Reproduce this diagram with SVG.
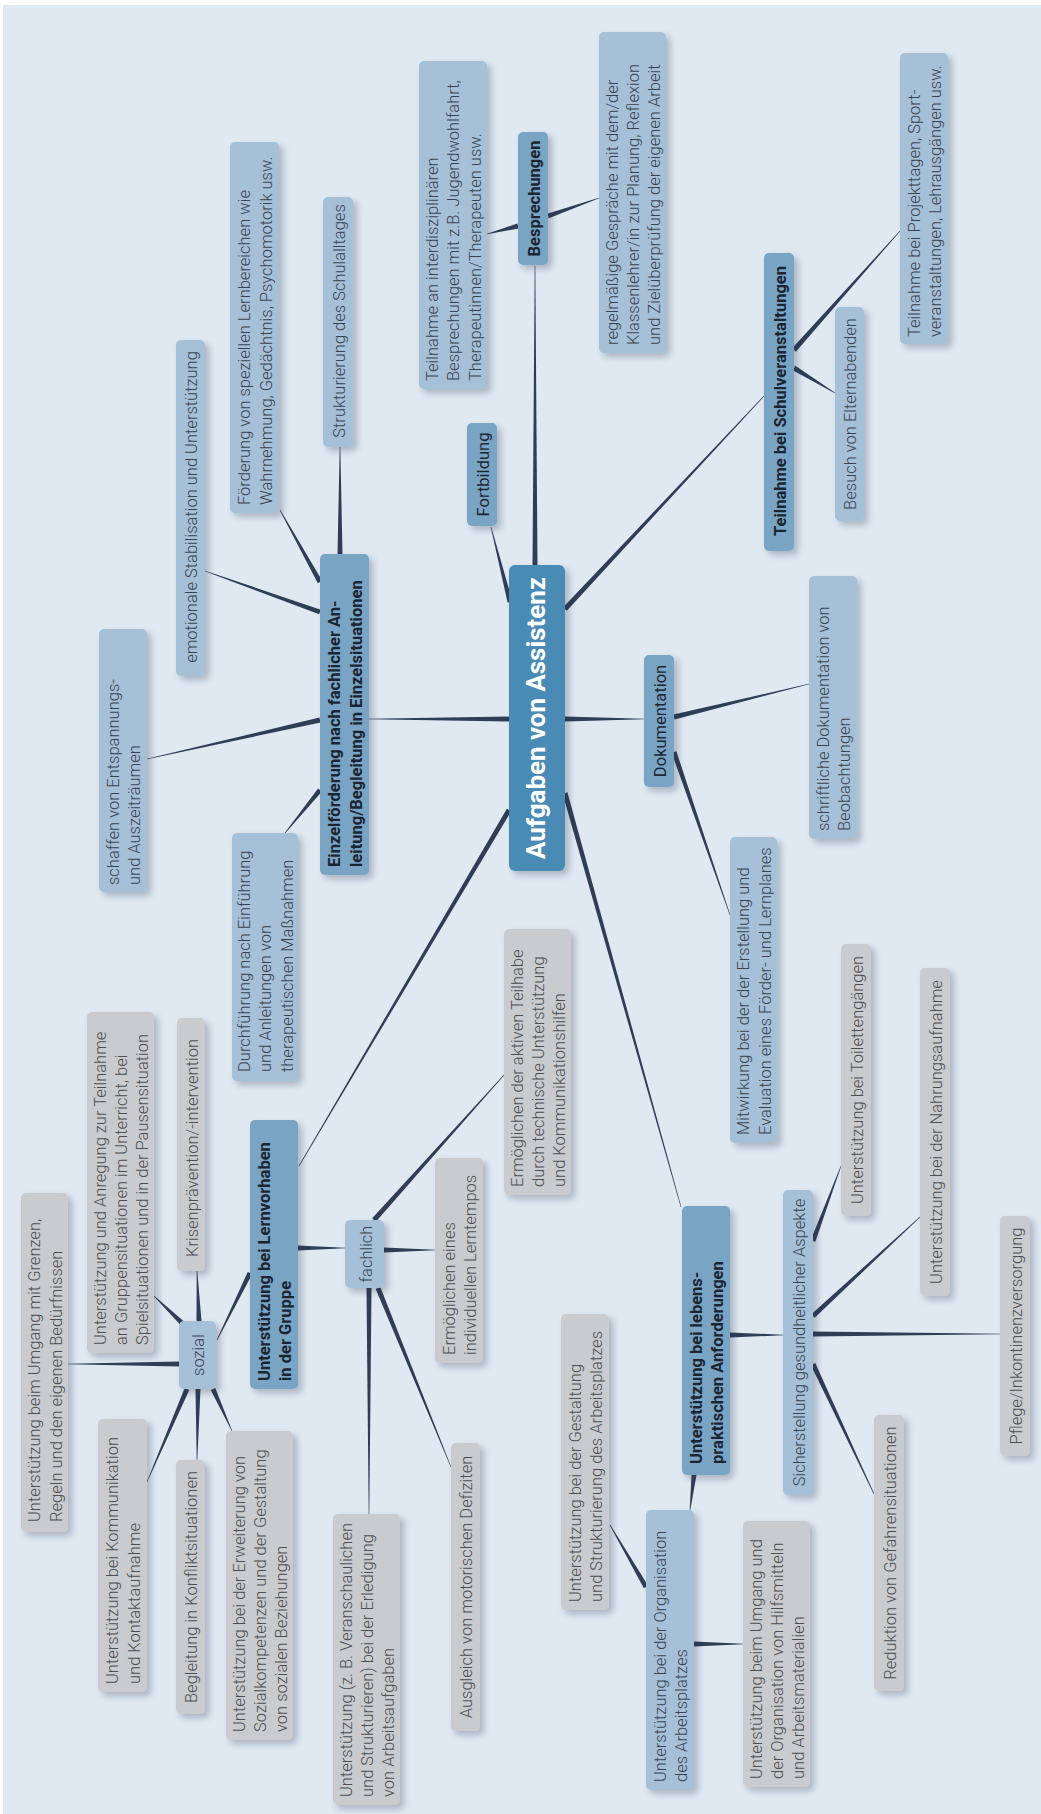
<svg xmlns="http://www.w3.org/2000/svg" width="1041" height="1814" viewBox="0 0 1041 1814">
<defs>
<filter id="sh" x="-30%" y="-10%" width="170%" height="130%">
<feDropShadow dx="4" dy="4" stdDeviation="3" flood-color="#1c2c44" flood-opacity="0.28"/>
</filter>
<style>
.bg{fill:#e0e8f2}
rect.c0{fill:#4a8bb5;filter:url(#sh)}
rect.l1{fill:#79a4c4;filter:url(#sh)}
rect.l2{fill:#a6c0d8;filter:url(#sh)}
rect.g{fill:#c9cbce;filter:url(#sh)}
text{font-family:Roboto,"Open Sans","Liberation Sans",sans-serif;font-size:16.5px}
.t{font-weight:300;fill:#39434f}
.tg{font-weight:300;fill:#4b4e53}
.tm{font-weight:400;fill:#1c2633}
.tb{font-weight:700;fill:#1a2433}
.tc{font-weight:700;fill:#ffffff;font-size:26px}
.mid{text-anchor:middle}
#connectors polygon{fill:#2f3d55}
</style>
</defs>
<rect x="0" y="0" width="1041" height="1814" fill="#ffffff"/>
<rect class="bg" x="3" y="5" width="1038" height="1809"/>
<g id="connectors">
<polygon points="532.5,566 537.5,566 535.3,266 534.7,266"/>
<polygon points="512.42,601.39 491.29,526.93 490.71,527.07 507.58,602.61"/>
<polygon points="566.83,610.71 764.22,396.2 763.78,395.8 563.17,607.29"/>
<polygon points="509,716.5 509,721.5 369,719.3 369,718.7"/>
<polygon points="565,716.5 565,721.5 644,719.3 644,718.7"/>
<polygon points="562.59,793.67 680.71,1207.08 681.29,1206.92 567.41,792.33"/>
<polygon points="506.85,808.73 298.74,1165.85 299.26,1166.15 511.15,811.27"/>
<polygon points="517.37,223.58 486.93,233.71 487.07,234.29 518.63,228.42"/>
<polygon points="548.83,218.36 599.1,198.28 598.9,197.72 547.17,213.64"/>
<polygon points="795.87,351.66 900.22,231.2 899.78,230.8 792.13,348.34"/>
<polygon points="792.7,370.13 834.84,393.26 835.16,392.74 795.3,365.87"/>
<polygon points="322.19,580.79 280.26,509.85 279.74,510.15 317.81,583.21"/>
<polygon points="337.5,554 342.5,554 340.3,447 339.7,447"/>
<polygon points="320.84,609.65 205.1,570.72 204.9,571.28 319.16,614.35"/>
<polygon points="319.45,717.56 146.93,758.71 147.07,759.29 320.55,722.44"/>
<polygon points="318.06,788.42 284.77,832.81 285.23,833.19 321.94,791.58"/>
<polygon points="674.59,719.43 809.07,684.29 808.93,683.71 673.41,714.57"/>
<polygon points="671.64,752.81 729.72,915.1 730.28,914.9 676.36,751.19"/>
<polygon points="247.76,1271.9 216.73,1339.87 217.27,1340.13 252.24,1274.1"/>
<polygon points="298,1245.5 298,1250.5 345,1248.3 345,1247.7"/>
<polygon points="196.5,1321 201.5,1321 197.3,1271 196.7,1271"/>
<polygon points="183.74,1321.2 154.21,1295.78 153.79,1296.22 180.26,1324.8"/>
<polygon points="179,1361.5 179,1366.5 68,1364.3 68,1363.7"/>
<polygon points="184.7,1388.01 146.72,1481.88 147.28,1482.12 189.3,1389.99"/>
<polygon points="195.5,1389 200.5,1389 197.3,1460 196.7,1460"/>
<polygon points="210.72,1390.03 231.73,1431.12 232.27,1430.88 215.28,1387.97"/>
<polygon points="384,1247.5 384,1252.5 435,1250.3 435,1249.7"/>
<polygon points="375.86,1221.67 504.22,1075.2 503.78,1074.8 372.14,1218.33"/>
<polygon points="366.5,1288 371.5,1288 369.3,1514 368.7,1514"/>
<polygon points="375.68,1288.94 450.72,1467.11 451.28,1466.89 380.32,1287.06"/>
<polygon points="730,1332.5 730,1337.5 783,1335.3 783,1334.7"/>
<polygon points="691.5,1475 696.5,1475 690.3,1510 689.7,1510"/>
<polygon points="648.16,1585.74 610.26,1524.85 609.74,1525.15 643.84,1588.26"/>
<polygon points="694,1641.5 694,1646.5 743,1644.3 743,1643.7"/>
<polygon points="815.34,1241.87 841.28,1166.1 840.72,1165.9 810.66,1240.13"/>
<polygon points="814.7,1317.83 920.2,1217.22 919.8,1216.78 811.3,1314.17"/>
<polygon points="813,1331.5 813,1336.5 1000,1334.3 1000,1333.7"/>
<polygon points="810.74,1365.06 873.73,1494.13 874.27,1493.87 815.26,1362.94"/>
</g>

<g id="n-central"><rect class="c0" x="509" y="565" width="56" height="306" rx="6"/>
<text class="tc mid" transform="translate(544.5,718) rotate(-90)" textLength="282" lengthAdjust="spacingAndGlyphs">Aufgaben von Assistenz</text></g>

<g id="n-besprechungen"><rect class="l1" x="518" y="132" width="30" height="133" rx="5"/>
<text class="tb mid" transform="translate(539.5,198.5) rotate(-90)">Besprechungen</text></g>

<g id="n-interdisz"><rect class="l2" x="419" y="61" width="68" height="328" rx="5"/>
<text class="t" transform="translate(438.2,381) rotate(-90)"><tspan x="0">Teilnahme an interdisziplinären</tspan><tspan x="0" dy="21.3">Besprechungen mit z.B. Jugendwohlfahrt,</tspan><tspan x="0" dy="21.3">Therapeutinnen/Therapeuten usw.</tspan></text></g>

<g id="n-regelmaessig"><rect class="l2" x="599" y="32" width="67" height="321" rx="5"/>
<text class="t" transform="translate(617.7,345) rotate(-90)"><tspan x="0">regelmäßige Gespräche mit dem/der</tspan><tspan x="0" dy="21.3">Klassenlehrer/in zur Planung, Reflexion</tspan><tspan x="0" dy="21.3">und Zielüberprüfung der eigenen Arbeit</tspan></text></g>

<g id="n-fortbildung"><rect class="l1" x="467" y="423" width="30" height="103" rx="5"/>
<text class="tm mid" transform="translate(488.5,474.5) rotate(-90)">Fortbildung</text></g>

<g id="n-schulveranstaltungen"><rect class="l1" x="764" y="253" width="30" height="298" rx="5"/>
<text class="tb mid" transform="translate(785.5,401) rotate(-90)">Teilnahme bei Schulveranstaltungen</text></g>

<g id="n-elternabende"><rect class="l2" x="835" y="307" width="29" height="214" rx="5"/>
<text class="t mid" transform="translate(856,414) rotate(-90)">Besuch von Elternabenden</text></g>

<g id="n-projekttage"><rect class="l2" x="900" y="53" width="48" height="291" rx="5"/>
<text class="t" transform="translate(919.85,337) rotate(-90)"><tspan x="0">Teilnahme bei Projekttagen, Sport-</tspan><tspan x="0" dy="21.3">veranstaltungen, Lehrausgängen usw.</tspan></text></g>

<g id="n-einzelfoerderung"><rect class="l1" x="320" y="554" width="49" height="321" rx="5"/>
<text class="tb" transform="translate(340.35,867) rotate(-90)"><tspan x="0">Einzelförderung nach fachlicher An-</tspan><tspan x="0" dy="21.3">leitung/Begleitung in Einzelsituationen</tspan></text></g>

<g id="n-foerderung"><rect class="l2" x="230" y="142" width="49" height="371" rx="5"/>
<text class="t" transform="translate(250.35,505) rotate(-90)"><tspan x="0">Förderung von speziellen Lernbereichen wie</tspan><tspan x="0" dy="21.3">Wahrnehmung, Gedächtnis, Psychomotorik usw.</tspan></text></g>

<g id="n-strukturierung"><rect class="l2" x="323" y="197" width="30" height="250" rx="5"/>
<text class="t mid" transform="translate(344.5,321) rotate(-90)">Strukturierung des Schulalltages</text></g>

<g id="n-emotionale"><rect class="l2" x="176" y="340" width="29" height="336" rx="5"/>
<text class="t mid" transform="translate(197,507) rotate(-90)">emotionale Stabilisation und Unterstützung</text></g>

<g id="n-schaffen"><rect class="l2" x="99" y="629" width="48" height="263" rx="5"/>
<text class="t" transform="translate(118.85,885) rotate(-90)"><tspan x="0">schaffen von Entspannungs-</tspan><tspan x="0" dy="21.3">und Auszeiträumen</tspan></text></g>

<g id="n-durchfuehrung"><rect class="l2" x="232" y="833" width="66" height="248" rx="5"/>
<text class="t" transform="translate(250.2,1072) rotate(-90)"><tspan x="0">Durchführung nach Einführung</tspan><tspan x="0" dy="21.3">und Anleitungen von</tspan><tspan x="0" dy="21.3">therapeutischen Maßnahmen</tspan></text></g>

<g id="n-dokumentation"><rect class="l1" x="644" y="655" width="30" height="132" rx="5"/>
<text class="tm mid" transform="translate(665.5,721) rotate(-90)">Dokumentation</text></g>

<g id="n-schriftliche"><rect class="l2" x="809" y="576" width="48" height="263" rx="5"/>
<text class="t" transform="translate(828.85,831) rotate(-90)"><tspan x="0">schriftliche Dokumentation von</tspan><tspan x="0" dy="21.3">Beobachtungen</tspan></text></g>

<g id="n-mitwirkung"><rect class="l2" x="730" y="837" width="47" height="306" rx="5"/>
<text class="t" transform="translate(749.35,1135) rotate(-90)"><tspan x="0">Mitwirkung bei der der Erstellung und</tspan><tspan x="0" dy="21.3">Evaluation eines Förder- und Lernplanes</tspan></text></g>

<g id="n-lernvorhaben"><rect class="l1" x="250" y="1120" width="48" height="269" rx="5"/>
<text class="tb" transform="translate(269.85,1381) rotate(-90)"><tspan x="0">Unterstützung bei Lernvorhaben</tspan><tspan x="0" dy="21.3">in der Gruppe</tspan></text></g>

<g id="n-sozial"><rect class="l2" x="179" y="1321" width="37" height="68" rx="5"/>
<text class="t mid" transform="translate(204,1355) rotate(-90)">sozial</text></g>

<g id="n-umgang"><rect class="g" x="21" y="1193" width="47" height="339" rx="5"/>
<text class="tg" transform="translate(40.35,1522) rotate(-90)"><tspan x="0">Unterstützung beim Umgang mit Grenzen,</tspan><tspan x="0" dy="21.3">Regeln und den eigenen Bedürfnissen</tspan></text></g>

<g id="n-gruppen"><rect class="g" x="87" y="1012" width="67" height="341" rx="5"/>
<text class="tg" transform="translate(105.7,1345) rotate(-90)"><tspan x="0">Unterstützung und Anregung zur Teilnahme</tspan><tspan x="0" dy="21.3">an Gruppensituationen im Unterricht, bei</tspan><tspan x="0" dy="21.3">Spielsituationen und in der Pausensituation</tspan></text></g>

<g id="n-krisen"><rect class="g" x="177" y="1018" width="28" height="253" rx="5"/>
<text class="tg mid" transform="translate(197.5,1148) rotate(-90)">Krisenprävention/-intervention</text></g>

<g id="n-kommunikation"><rect class="g" x="98" y="1419" width="49" height="273" rx="5"/>
<text class="tg" transform="translate(118.35,1684) rotate(-90)"><tspan x="0">Unterstützung bei Kommunikation</tspan><tspan x="0" dy="21.3">und Kontaktaufnahme</tspan></text></g>

<g id="n-begleitung"><rect class="g" x="176" y="1460" width="29" height="254" rx="5"/>
<text class="tg mid" transform="translate(197,1587) rotate(-90)">Begleitung in Konfliktsituationen</text></g>

<g id="n-erweiterung"><rect class="g" x="226" y="1431" width="67" height="309" rx="5"/>
<text class="tg" transform="translate(244.7,1732) rotate(-90)"><tspan x="0">Unterstützung bei der Erweiterung von</tspan><tspan x="0" dy="21.3">Sozialkompetenzen und der Gestaltung</tspan><tspan x="0" dy="21.3">von sozialen Beziehungen</tspan></text></g>

<g id="n-fachlich"><rect class="l2" x="345" y="1220" width="39" height="68" rx="5"/>
<text class="t mid" transform="translate(371.5,1254) rotate(-90)">fachlich</text></g>

<g id="n-lerntempo"><rect class="g" x="435" y="1158" width="48" height="205" rx="5"/>
<text class="tg" transform="translate(454.85,1355) rotate(-90)"><tspan x="0">Ermöglichen eines</tspan><tspan x="0" dy="21.3">individuellen Lerntempos</tspan></text></g>

<g id="n-teilhabe"><rect class="g" x="504" y="929" width="67" height="266" rx="5"/>
<text class="tg" transform="translate(522.7,1187) rotate(-90)"><tspan x="0">Ermöglichen der aktiven Teilhabe</tspan><tspan x="0" dy="21.3">durch technische Unterstützung</tspan><tspan x="0" dy="21.3">und Kommunikationshilfen</tspan></text></g>

<g id="n-veranschaulichen"><rect class="g" x="333" y="1514" width="67" height="291" rx="5"/>
<text class="tg" transform="translate(351.7,1797) rotate(-90)"><tspan x="0">Unterstützung (z. B. Veranschaulichen</tspan><tspan x="0" dy="21.3">und Strukturieren) bei der Erledigung</tspan><tspan x="0" dy="21.3">von Arbeitsaufgaben</tspan></text></g>

<g id="n-ausgleich"><rect class="g" x="451" y="1443" width="29" height="288" rx="5"/>
<text class="tg mid" transform="translate(472,1587) rotate(-90)">Ausgleich von motorischen Defiziten</text></g>

<g id="n-lebenspraktisch"><rect class="l1" x="682" y="1206" width="48" height="269" rx="5"/>
<text class="tb" transform="translate(701.85,1464) rotate(-90)"><tspan x="0">Unterstützung bei lebens-</tspan><tspan x="0" dy="21.3">praktischen Anforderungen</tspan></text></g>

<g id="n-sicherstellung"><rect class="l2" x="783" y="1190" width="30" height="305" rx="5"/>
<text class="t mid" transform="translate(804.5,1342.5) rotate(-90)">Sicherstellung gesundheitlicher Aspekte</text></g>

<g id="n-toiletten"><rect class="g" x="841" y="944" width="30" height="272" rx="5"/>
<text class="tg mid" transform="translate(862.5,1080) rotate(-90)">Unterstützung bei Toilettengängen</text></g>

<g id="n-nahrung"><rect class="g" x="920" y="968" width="30" height="328" rx="5"/>
<text class="tg mid" transform="translate(941.5,1132) rotate(-90)">Unterstützung bei der Nahrungsaufnahme</text></g>

<g id="n-pflege"><rect class="g" x="1000" y="1216" width="30" height="240" rx="5"/>
<text class="tg mid" transform="translate(1021.5,1336) rotate(-90)">Pflege/Inkontinenzversorgung</text></g>

<g id="n-reduktion"><rect class="g" x="874" y="1415" width="30" height="276" rx="5"/>
<text class="tg mid" transform="translate(895.5,1553) rotate(-90)">Reduktion von Gefahrensituationen</text></g>

<g id="n-organisation"><rect class="l2" x="646" y="1510" width="48" height="280" rx="5"/>
<text class="t" transform="translate(665.85,1782) rotate(-90)"><tspan x="0">Unterstützung bei der Organisation</tspan><tspan x="0" dy="21.3">des Arbeitsplatzes</tspan></text></g>

<g id="n-gestaltung"><rect class="g" x="561" y="1314" width="48" height="296" rx="5"/>
<text class="tg" transform="translate(580.85,1602) rotate(-90)"><tspan x="0">Unterstützung bei der Gestaltung</tspan><tspan x="0" dy="21.3">und Strukturierung des Arbeitsplatzes</tspan></text></g>

<g id="n-hilfsmittel"><rect class="g" x="743" y="1521" width="67" height="266" rx="5"/>
<text class="tg" transform="translate(761.7,1779) rotate(-90)"><tspan x="0">Unterstützung beim Umgang und</tspan><tspan x="0" dy="21.3">der Organisation von Hilfsmitteln</tspan><tspan x="0" dy="21.3">und Arbeitsmaterialien</tspan></text></g>
</svg>
